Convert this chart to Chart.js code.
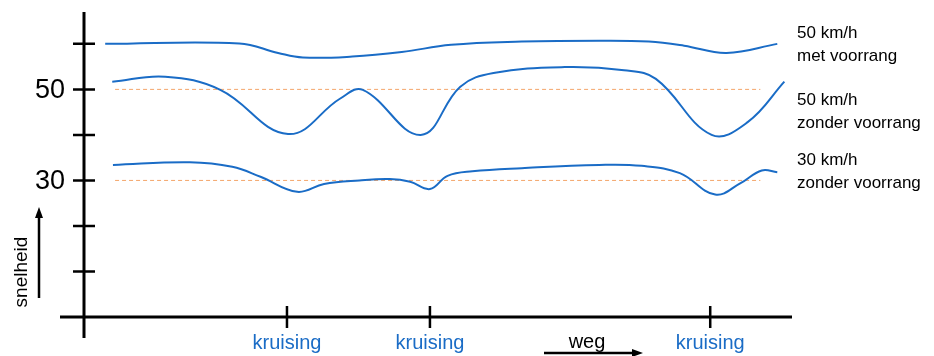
<!DOCTYPE html>
<html>
<head>
<meta charset="utf-8">
<script src="https://cdn.jsdelivr.net/npm/chart.js@4/dist/chart.umd.min.js"></script>
<style>
  html, body { margin: 0; padding: 0; background: #fff; }
  #wrap { width: 934px; height: 356px; }
</style>
</head>
<body>
<div id="wrap"><canvas id="chart"></canvas></div>
<script>
// afstand langs de weg (0-100) en snelheid (km/h)
const metVoorrang50X = [3, 22, 27.5, 31, 38, 45, 52, 62, 73, 80, 85, 91, 98.2];
const metVoorrang50Y = [60, 60.1, 58, 57, 57.2, 58.2, 59.8, 60.5, 60.7, 60.5, 59.6, 58, 60];

const zonder50X = [4, 11.5, 19.3, 28.9, 36.3, 39.5, 47.7, 53.3, 58, 68.1, 76.5, 81, 88.9, 94, 99.2];
const zonder50Y = [51.7, 52.8, 49.9, 40.2, 48, 49.9, 40, 50.6, 53.6, 54.9, 54.2, 52.3, 40, 42.8, 51.7];

const zonder30X = [4.1, 15, 21, 25, 30.2, 34, 39, 43.3, 46.2, 49, 51.5, 55, 62, 73, 79, 84.4, 89.4, 93, 96, 98.2];
const zonder30Y = [33.4, 34, 33, 30.8, 27.5, 29.2, 30, 30.3, 29.7, 28.1, 31, 32, 32.7, 33.4, 33.2, 31.6, 26.9, 29.4, 32.2, 31.8];

const limietX = [4.4, 95.8];
const limieten = [50, 30];

const kruisingen = [28.75, 49, 88.7];
const yTicks = [10, 20, 30, 40, 50, 60];
const yLabels = { 30: "30", 50: "50" };

const reeksLabels = [
  { v: 59.8, lines: ["50 km/h", "met voorrang"] },
  { v: 45.2, lines: ["50 km/h", "zonder voorrang"] },
  { v: 32.0, lines: ["30 km/h", "zonder voorrang"] }
];

const blauw = "#1a6cc6";
const oranje = "#f4a66a";
const FONT = "'Liberation Sans', Arial, sans-serif";

function punten(xs, ys) {
  return xs.map((x, i) => ({ x: x, y: ys[i] }));
}

const datasets = [
  { data: punten(metVoorrang50X, metVoorrang50Y) },
  { data: punten(zonder50X, zonder50Y) },
  { data: punten(zonder30X, zonder30Y) }
].map((d) => ({
  ...d,
  borderColor: blauw,
  borderWidth: 2,
  pointRadius: 0,
  fill: false,
  tension: 0.4
}));

limieten.forEach((v) => {
  datasets.push({
    data: limietX.map((x) => ({ x: x, y: v })),
    borderColor: oranje,
    borderWidth: 1,
    borderDash: [4, 3],
    pointRadius: 0,
    fill: false
  });
});

const assen = {
  id: "assen",
  afterDraw(chart) {
    const ctx = chart.ctx;
    const xs = chart.scales.x;
    const ys = chart.scales.y;
    const a = chart.chartArea;
    const x0 = xs.getPixelForValue(0);
    const y0 = ys.getPixelForValue(0);
    ctx.save();
    ctx.strokeStyle = "#000";
    ctx.lineWidth = 3;
    ctx.beginPath();
    ctx.moveTo(x0, a.top);
    ctx.lineTo(x0, y0 + 21);
    ctx.moveTo(x0 - 24, y0);
    ctx.lineTo(a.right + 2, y0);
    ctx.stroke();

    ctx.lineWidth = 2.5;
    ctx.beginPath();
    yTicks.forEach((v) => {
      const py = ys.getPixelForValue(v);
      ctx.moveTo(x0 - 11, py);
      ctx.lineTo(x0 + 11, py);
    });
    kruisingen.forEach((v) => {
      const px = xs.getPixelForValue(v);
      ctx.moveTo(px, y0 - 11);
      ctx.lineTo(px, y0 + 11);
    });
    ctx.stroke();

    ctx.fillStyle = "#000";
    ctx.font = "27px " + FONT;
    ctx.textAlign = "right";
    ctx.textBaseline = "middle";
    Object.keys(yLabels).forEach((k) => {
      ctx.fillText(yLabels[k], x0 - 19, ys.getPixelForValue(+k) + 1);
    });

    ctx.fillStyle = blauw;
    ctx.font = "20px " + FONT;
    ctx.textAlign = "center";
    kruisingen.forEach((v) => {
      ctx.fillText("kruising", xs.getPixelForValue(v), y0 + 26);
    });

    // weg
    ctx.fillStyle = "#000";
    ctx.fillText("weg", 587, y0 + 25);
    ctx.lineWidth = 2.5;
    ctx.beginPath();
    ctx.moveTo(544, y0 + 36);
    ctx.lineTo(634, y0 + 36);
    ctx.stroke();
    ctx.beginPath();
    ctx.moveTo(643, y0 + 36);
    ctx.lineTo(632, y0 + 32);
    ctx.lineTo(632, y0 + 40);
    ctx.closePath();
    ctx.fill();

    // snelheid
    ctx.save();
    ctx.translate(22, 272);
    ctx.rotate(-Math.PI / 2);
    ctx.font = "19px " + FONT;
    ctx.fillText("snelheid", 0, 0);
    ctx.restore();
    ctx.beginPath();
    ctx.moveTo(39, 298);
    ctx.lineTo(39, 216);
    ctx.stroke();
    ctx.beginPath();
    ctx.moveTo(39, 207);
    ctx.lineTo(35, 218);
    ctx.lineTo(43, 218);
    ctx.closePath();
    ctx.fill();

    // reeksnamen
    ctx.font = "17px " + FONT;
    ctx.textAlign = "left";
    reeksLabels.forEach((r) => {
      const cy = ys.getPixelForValue(r.v);
      ctx.fillText(r.lines[0], a.right + 7, cy - 11);
      ctx.fillText(r.lines[1], a.right + 7, cy + 12);
    });
    ctx.restore();
  }
};

new Chart(document.getElementById("chart"), {
  type: "line",
  data: { datasets: datasets },
  options: {
    responsive: true,
    maintainAspectRatio: false,
    animation: false,
    layout: { padding: { left: 84, right: 144, top: 12, bottom: 39 } },
    plugins: { legend: { display: false }, tooltip: { enabled: false } },
    scales: {
      x: { type: "linear", min: 0, max: 100, display: false },
      y: { min: 0, max: 67, display: false }
    }
  },
  plugins: [assen]
});
</script>
</body>
</html>
